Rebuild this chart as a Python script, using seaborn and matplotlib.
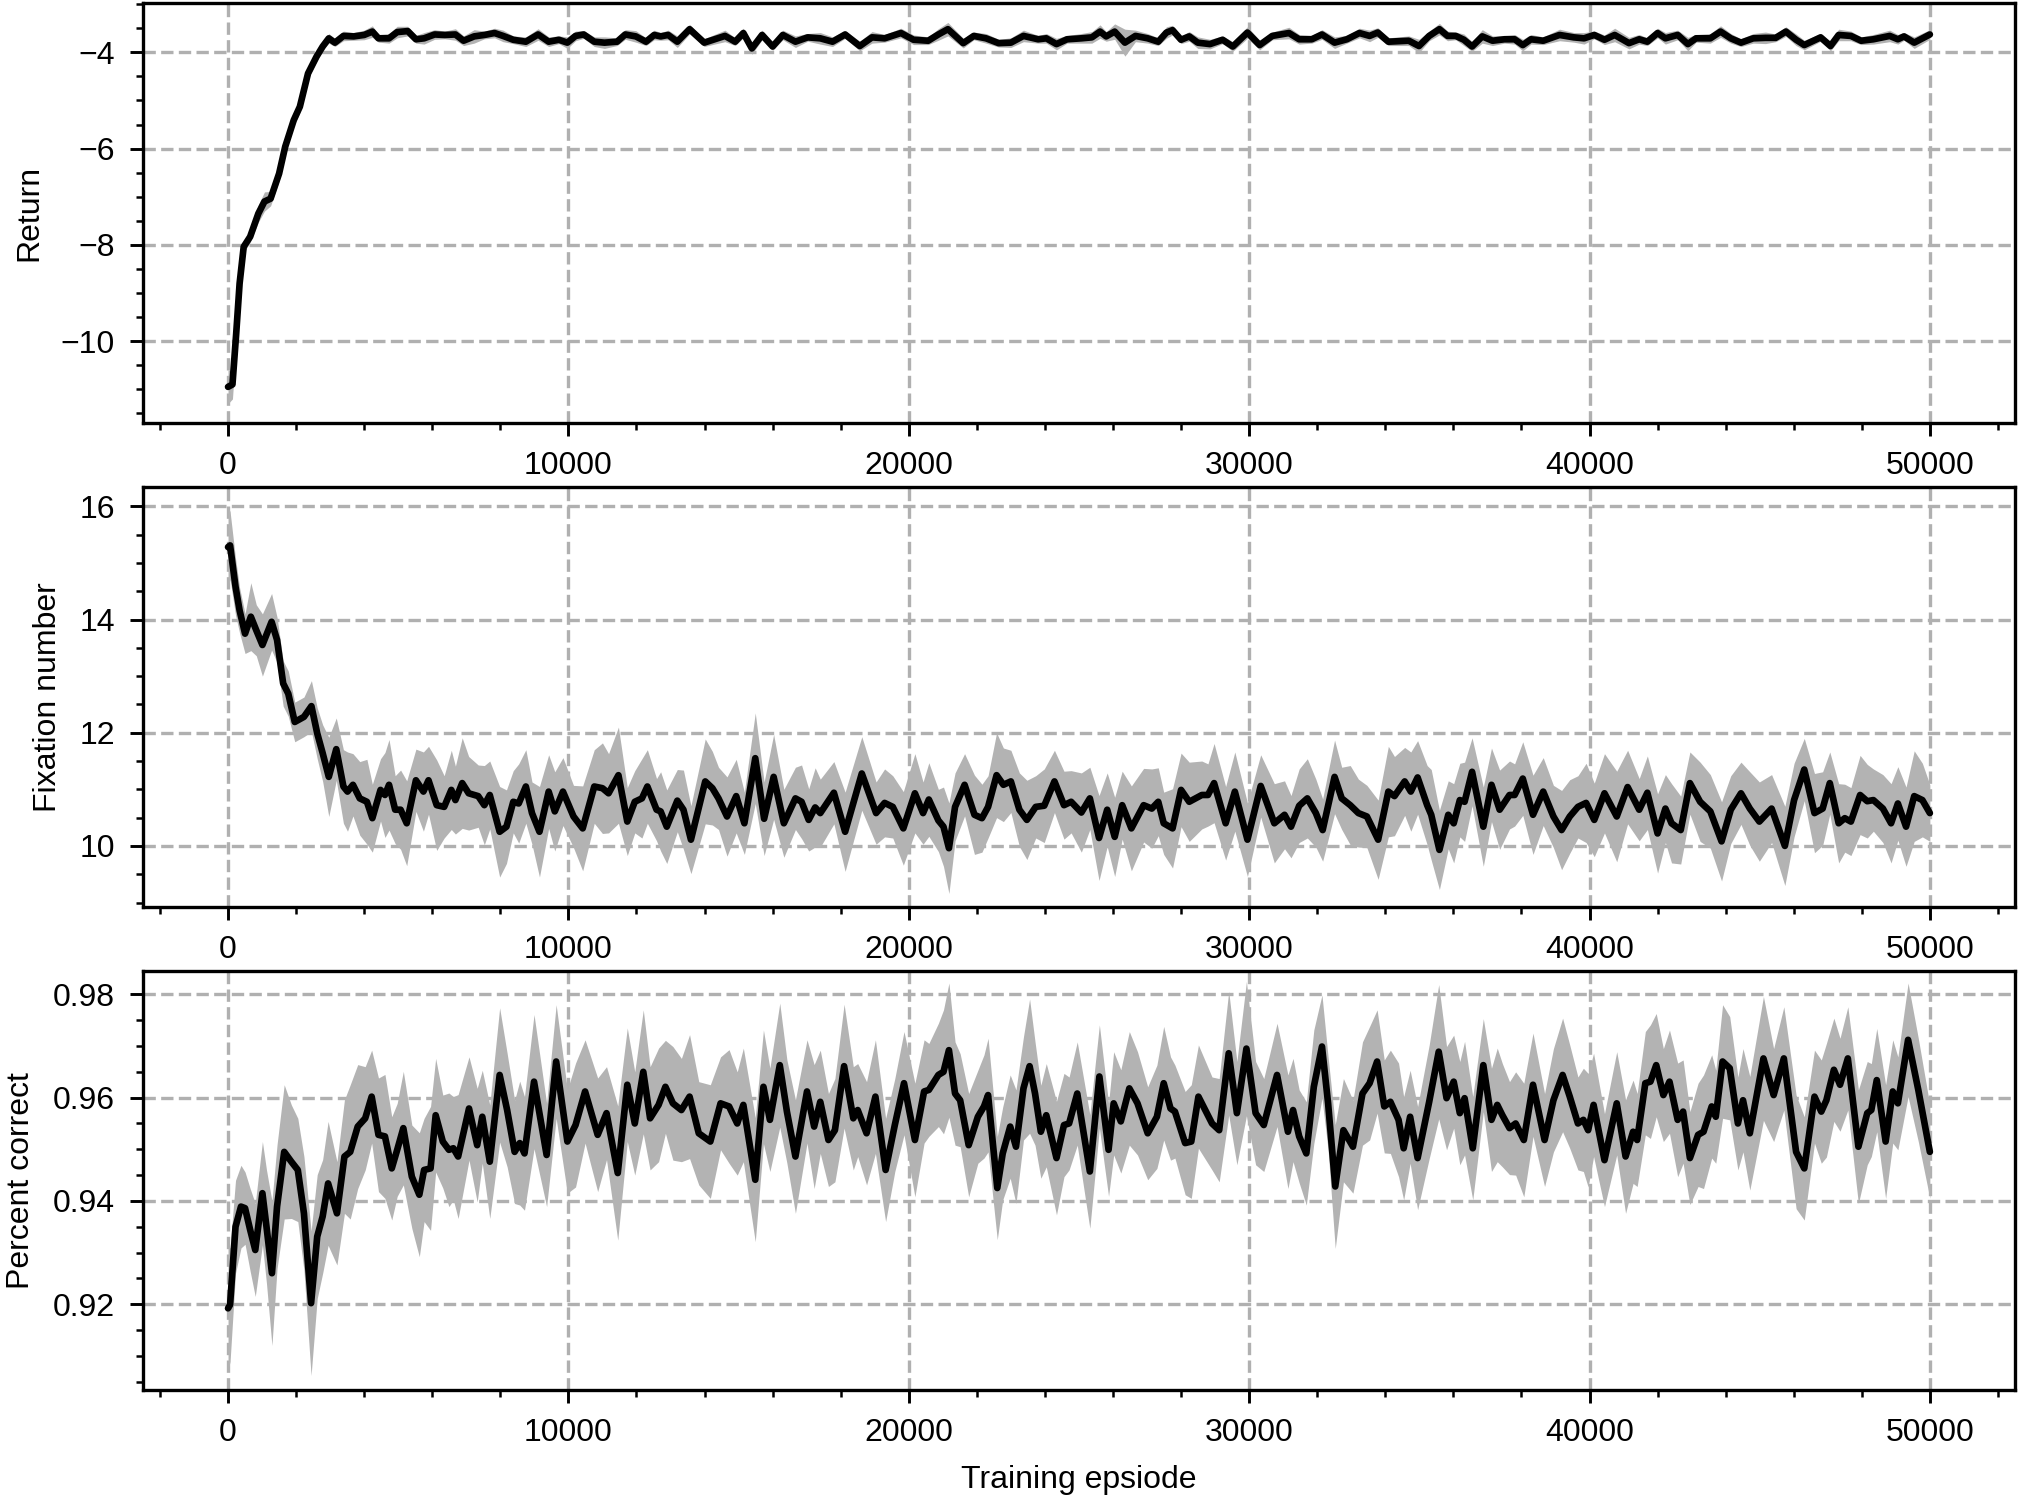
import numpy as np
import matplotlib
matplotlib.use("Agg")
import matplotlib.pyplot as plt
from matplotlib.ticker import MultipleLocator, AutoMinorLocator
import seaborn as sns

# ---------------- data ----------------
ret_x = [0,130,240,340,460,650,890,1070,1250,1500,
         1680,1930,2110,2350,2600,2780,2960,3140,3390,3690,
         4000,4240,4420,4730,4970,5280,5520,5760,6070,6370,
         6680,6920,7230,7530,7830,8080,8380,8750,9110,9420,
         9720,9970,10210,10450,10760,11060,11430,11670,11980,12280,
         12520,12710,12930,13200,13560,13990,14290,14600,14900,15140,
         15390,15690,16000,16300,16670,17030,17400,17760,18130,18560,
         18920,19290,19770,20140,20570,20870,21150,21600,21910,22270,
         22640,23000,23370,23800,24040,24340,24650,25070,25380,25620,
         25800,26050,26350,26660,27020,27330,27570,27750,28000,28240,
         28490,28850,29220,29520,29950,30310,30680,31170,31470,31840,
         32140,32510,32870,33240,33540,33780,34090,34690,34990,35290,
         35590,35830,36070,36310,36550,36850,37150,37500,37800,38040,
         38280,38640,39120,39540,39840,40140,40440,40740,41160,41460,
         41700,42000,42230,42590,42890,43130,43550,43850,44150,44450,
         44810,45170,45470,45770,46070,46310,46790,47080,47320,47680,
         47980,48340,48820,49060,49240,49540,50000]
ret_mean = [-10.95,-10.9,-9.84,-8.8,-8.04,-7.83,-7.35,-7.1,-7.04,-6.52,
            -5.96,-5.41,-5.13,-4.44,-4.09,-3.88,-3.71,-3.80,-3.66,-3.67,
            -3.64,-3.57,-3.71,-3.71,-3.58,-3.56,-3.73,-3.71,-3.63,-3.64,
            -3.63,-3.76,-3.67,-3.64,-3.60,-3.66,-3.74,-3.78,-3.63,-3.78,
            -3.74,-3.80,-3.66,-3.63,-3.78,-3.80,-3.78,-3.63,-3.67,-3.78,
            -3.64,-3.67,-3.64,-3.78,-3.52,-3.80,-3.73,-3.66,-3.78,-3.60,
            -3.92,-3.64,-3.88,-3.64,-3.78,-3.69,-3.71,-3.78,-3.63,-3.87,
            -3.69,-3.71,-3.60,-3.74,-3.76,-3.63,-3.52,-3.81,-3.66,-3.71,
            -3.81,-3.80,-3.66,-3.73,-3.71,-3.83,-3.73,-3.71,-3.69,-3.57,
            -3.67,-3.57,-3.80,-3.66,-3.71,-3.78,-3.59,-3.54,-3.74,-3.67,
            -3.80,-3.83,-3.74,-3.88,-3.59,-3.85,-3.66,-3.60,-3.73,-3.73,
            -3.63,-3.80,-3.73,-3.60,-3.66,-3.59,-3.78,-3.76,-3.87,-3.66,
            -3.52,-3.66,-3.66,-3.74,-3.88,-3.67,-3.76,-3.73,-3.73,-3.85,
            -3.73,-3.76,-3.64,-3.69,-3.71,-3.64,-3.74,-3.64,-3.81,-3.73,
            -3.78,-3.60,-3.71,-3.64,-3.83,-3.71,-3.71,-3.57,-3.71,-3.80,
            -3.71,-3.70,-3.70,-3.57,-3.74,-3.85,-3.69,-3.87,-3.64,-3.66,
            -3.76,-3.73,-3.66,-3.73,-3.67,-3.80,-3.63]
ret_sd = [0.35,0.30,0.22,0.18,0.12,0.12,0.18,0.20,0.15,0.15,
          0.12,0.12,0.12,0.12,0.10,0.08,0.10,0.08,0.10,0.08,
          0.10,0.12,0.08,0.10,0.12,0.10,0.08,0.12,0.10,0.08,
          0.12,0.10,0.14,0.08,0.10,0.12,0.08,0.10,0.12,0.10,
          0.08,0.12,0.10,0.08,0.10,0.12,0.08,0.10,0.12,0.08,
          0.10,0.08,0.10,0.12,0.10,0.08,0.10,0.12,0.08,0.10,
          0.12,0.10,0.08,0.10,0.12,0.08,0.12,0.10,0.08,0.10,
          0.12,0.08,0.10,0.10,0.08,0.12,0.14,0.10,0.08,0.10,
          0.08,0.10,0.12,0.08,0.10,0.12,0.08,0.10,0.12,0.14,
          0.10,0.16,0.28,0.12,0.10,0.08,0.12,0.10,0.08,0.10,
          0.12,0.10,0.08,0.10,0.12,0.10,0.08,0.12,0.10,0.08,
          0.10,0.12,0.08,0.10,0.12,0.10,0.08,0.10,0.14,0.10,
          0.12,0.10,0.08,0.12,0.10,0.14,0.10,0.08,0.10,0.12,
          0.10,0.08,0.12,0.10,0.12,0.08,0.10,0.14,0.12,0.10,
          0.08,0.10,0.12,0.10,0.14,0.08,0.10,0.12,0.10,0.08,
          0.10,0.12,0.08,0.10,0.12,0.10,0.08,0.10,0.12,0.10,
          0.08,0.10,0.12,0.10,0.08,0.12,0.10]

fix_x = [0,60,220,340,500,670,830,1010,1280,1440,
         1620,1770,1960,2230,2450,2620,2780,2960,3180,3390,
         3510,3670,3870,4080,4240,4480,4610,4730,4910,5070,
         5250,5520,5740,5890,6130,6350,6560,6680,6880,7070,
         7350,7530,7690,7980,8180,8380,8540,8750,8930,9150,
         9420,9600,9840,10150,10420,10760,11000,11180,11470,11730,
         11950,12160,12320,12590,12710,12890,13200,13380,13600,14020,
         14230,14410,14660,14930,15170,15490,15750,16030,16330,16670,
         16850,17060,17250,17400,17800,18130,18620,19040,19290,19530,
         19840,20180,20420,20590,20870,21020,21180,21360,21640,21930,
         22150,22330,22580,22780,23000,23250,23470,23730,23980,24280,
         24560,24770,25070,25320,25590,25830,26050,26270,26540,26900,
         27140,27330,27490,27750,28000,28240,28610,28790,28970,29310,
         29580,29950,30340,30740,31040,31230,31470,31710,31960,32160,
         32510,32720,32970,33210,33460,33790,34090,34270,34570,34750,
         34950,35230,35350,35590,35850,36010,36190,36330,36550,36880,
         37120,37360,37650,37800,38040,38340,38640,38940,39180,39420,
         39660,39900,40140,40440,40800,41120,41460,41700,42000,42230,
         42410,42680,42950,43250,43550,43880,44150,44450,44710,44990,
         45350,45740,46010,46310,46610,46850,47060,47320,47500,47680,
         47950,48160,48340,48620,48860,49060,49300,49540,49780,50000]
fix_mean = [15.28,15.31,14.58,14.16,13.75,14.05,13.81,13.55,13.96,13.64,
            12.87,12.69,12.19,12.28,12.47,11.99,11.64,11.22,11.71,11.05,
            10.96,11.08,10.84,10.78,10.49,10.99,10.90,11.08,10.64,10.64,
            10.40,11.16,10.96,11.16,10.72,10.69,10.99,10.81,11.11,10.93,
            10.88,10.72,10.90,10.25,10.34,10.78,10.75,11.05,10.58,10.25,
            10.96,10.61,10.96,10.52,10.31,11.05,11.02,10.93,11.25,10.43,
            10.78,10.84,11.05,10.64,10.61,10.34,10.80,10.64,10.11,11.14,
            11.02,10.84,10.52,10.88,10.40,11.55,10.48,11.22,10.40,10.84,
            10.78,10.46,10.68,10.58,10.94,10.25,11.28,10.58,10.76,10.69,
            10.31,10.93,10.58,10.82,10.45,10.34,9.96,10.69,11.08,10.55,
            10.49,10.69,11.25,11.08,11.14,10.64,10.46,10.69,10.71,11.14,
            10.72,10.78,10.59,10.84,10.14,10.64,10.16,10.72,10.31,10.72,
            10.66,10.78,10.40,10.31,10.99,10.78,10.90,10.90,11.11,10.40,
            10.96,10.11,11.06,10.40,10.55,10.34,10.71,10.84,10.58,10.28,
            11.22,10.84,10.72,10.58,10.52,10.11,10.96,10.88,11.14,10.96,
            11.21,10.72,10.55,9.93,10.55,10.40,10.81,10.78,11.31,10.34,
            11.08,10.64,10.90,10.90,11.19,10.55,10.96,10.52,10.28,10.52,
            10.69,10.76,10.46,10.93,10.52,11.04,10.64,10.94,10.22,10.66,
            10.40,10.28,11.11,10.78,10.61,10.08,10.64,10.93,10.66,10.43,
            10.66,10.00,10.81,11.35,10.58,10.66,11.11,10.40,10.49,10.43,
            10.90,10.79,10.81,10.66,10.40,10.75,10.34,10.88,10.81,10.58]
fix_sd = [0.70,0.60,0.50,0.40,0.35,0.60,0.45,0.55,0.50,0.40,
          0.40,0.40,0.35,0.35,0.45,0.45,0.50,0.70,0.55,0.65,
          0.70,0.55,0.65,0.75,0.60,0.55,0.75,0.80,0.60,0.70,
          0.75,0.55,0.70,0.60,0.80,0.55,0.70,0.60,0.80,0.65,
          0.55,0.70,0.60,0.80,0.65,0.55,0.70,0.65,0.55,0.80,
          0.65,0.70,0.60,0.55,0.75,0.65,0.80,0.70,0.85,0.60,
          0.55,0.70,0.65,0.55,0.70,0.65,0.55,0.70,0.60,0.75,
          0.65,0.55,0.70,0.65,0.55,0.80,0.65,0.75,0.60,0.55,
          0.65,0.55,0.70,0.60,0.55,0.70,0.65,0.55,0.60,0.55,
          0.65,0.70,0.55,0.65,0.55,0.70,0.80,0.60,0.55,0.70,
          0.60,0.55,0.75,0.65,0.55,0.65,0.70,0.55,0.65,0.55,
          0.60,0.55,0.70,0.55,0.75,0.65,0.70,0.60,0.75,0.65,
          0.70,0.60,0.55,0.70,0.65,0.70,0.60,0.55,0.70,0.65,
          0.70,0.65,0.55,0.70,0.60,0.55,0.65,0.70,0.60,0.55,
          0.65,0.55,0.70,0.60,0.55,0.70,0.80,0.70,0.60,0.70,
          0.65,0.70,0.80,0.70,0.60,0.70,0.65,0.70,0.60,0.70,
          0.65,0.70,0.60,0.55,0.65,0.70,0.60,0.55,0.70,0.65,
          0.55,0.70,0.65,0.70,0.80,0.65,0.55,0.65,0.70,0.60,
          0.70,0.60,0.55,0.70,0.65,0.70,0.60,0.55,0.65,0.70,
          0.60,0.70,0.65,0.55,0.70,0.65,0.55,0.70,0.60,0.60,
          0.70,0.65,0.55,0.60,0.70,0.65,0.70,0.80,0.65,0.50]

pc_x = [0,60,220,380,500,650,800,1010,1130,1290,
        1440,1650,1860,2050,2230,2440,2620,2780,2940,3200,
        3420,3590,3810,4030,4220,4420,4610,4810,4970,5150,
        5400,5620,5760,5950,6100,6310,6490,6620,6760,7080,
        7320,7470,7690,7980,8200,8420,8570,8710,8990,9360,
        9640,9970,10210,10490,10860,11120,11450,11730,11950,12200,
        12400,12650,12850,13070,13320,13560,13830,14170,14470,14720,
        14960,15140,15490,15730,15920,16210,16420,16670,17010,17220,
        17400,17640,17830,18100,18370,18500,18760,19020,19320,19590,
        19860,20180,20450,20590,20870,21020,21180,21360,21510,21760,
        22030,22210,22330,22600,22760,22980,23150,23370,23550,23710,
        23880,24040,24340,24560,24710,24950,25320,25600,25870,26020,
        26230,26480,26720,27020,27290,27490,27690,27820,28120,28300,
        28510,28910,29120,29400,29640,29920,30190,30430,30820,31140,
        31290,31470,31680,31900,32140,32320,32530,32770,33050,33330,
        33540,33760,33970,34150,34390,34540,34730,34950,35290,35570,
        35800,36010,36190,36330,36570,36880,37120,37290,37440,37650,
        37830,38070,38340,38680,38940,39210,39420,39660,39820,39960,
        40120,40440,40800,41060,41280,41400,41640,41790,41960,42170,
        42350,42590,42750,42950,43190,43350,43590,43710,43910,44120,
        44360,44510,44710,45110,45410,45710,46070,46310,46610,46810,
        46960,47180,47360,47590,47900,48160,48280,48440,48700,48910,
        49060,49360,49660,50000]
pc_mean = [0.9192,0.9199,0.9350,0.9389,0.9386,0.9344,0.9305,0.9415,0.9350,0.9260,
           0.9389,0.9495,0.9476,0.9460,0.9376,0.9202,0.9331,0.9370,0.9434,0.9376,
           0.9486,0.9495,0.9544,0.9560,0.9602,0.9528,0.9525,0.9463,0.9499,0.9541,
           0.9447,0.9412,0.9460,0.9463,0.9566,0.9515,0.9499,0.9502,0.9486,0.9579,
           0.9508,0.9563,0.9476,0.9644,0.9576,0.9495,0.9512,0.9492,0.9631,0.9489,
           0.9670,0.9515,0.9547,0.9612,0.9528,0.9570,0.9454,0.9625,0.9550,0.9650,
           0.9560,0.9586,0.9621,0.9589,0.9576,0.9602,0.9531,0.9515,0.9589,0.9583,
           0.9550,0.9586,0.9441,0.9621,0.9557,0.9663,0.9573,0.9486,0.9612,0.9544,
           0.9592,0.9518,0.9537,0.9661,0.9560,0.9576,0.9531,0.9602,0.9460,0.9547,
           0.9628,0.9518,0.9612,0.9615,0.9644,0.9650,0.9692,0.9608,0.9595,0.9508,
           0.9563,0.9583,0.9605,0.9425,0.9492,0.9544,0.9505,0.9618,0.9661,0.9608,
           0.9534,0.9566,0.9483,0.9547,0.9550,0.9608,0.9457,0.9641,0.9499,0.9589,
           0.9554,0.9618,0.9589,0.9531,0.9563,0.9628,0.9579,0.9573,0.9512,0.9515,
           0.9602,0.9550,0.9537,0.9686,0.9570,0.9695,0.9570,0.9547,0.9644,0.9534,
           0.9576,0.9525,0.9492,0.9621,0.9699,0.9589,0.9428,0.9537,0.9505,0.9608,
           0.9628,0.9670,0.9583,0.9592,0.9557,0.9502,0.9563,0.9483,0.9592,0.9689,
           0.9599,0.9631,0.9570,0.9599,0.9502,0.9663,0.9557,0.9586,0.9566,0.9541,
           0.9550,0.9518,0.9625,0.9518,0.9595,0.9644,0.9602,0.9550,0.9557,0.9537,
           0.9586,0.9479,0.9589,0.9486,0.9534,0.9518,0.9628,0.9631,0.9663,0.9605,
           0.9631,0.9557,0.9573,0.9483,0.9528,0.9534,0.9583,0.9563,0.9670,0.9657,
           0.9550,0.9595,0.9531,0.9676,0.9605,0.9676,0.9495,0.9463,0.9602,0.9573,
           0.9595,0.9654,0.9625,0.9676,0.9505,0.9570,0.9576,0.9634,0.9515,0.9612,
           0.9589,0.9712,0.9615,0.9495]
pc_sd = [0.012,0.011,0.009,0.008,0.007,0.008,0.009,0.010,0.011,0.014,
         0.012,0.013,0.011,0.010,0.011,0.014,0.012,0.011,0.012,0.010,
         0.011,0.013,0.012,0.010,0.009,0.011,0.012,0.010,0.009,0.011,
         0.010,0.012,0.010,0.012,0.011,0.009,0.011,0.010,0.012,0.010,
         0.011,0.009,0.011,0.013,0.011,0.010,0.012,0.011,0.013,0.010,
         0.011,0.010,0.012,0.010,0.011,0.009,0.013,0.011,0.010,0.012,
         0.010,0.011,0.009,0.011,0.010,0.012,0.010,0.011,0.009,0.011,
         0.010,0.011,0.012,0.011,0.010,0.012,0.010,0.011,0.010,0.012,
         0.010,0.009,0.010,0.012,0.010,0.009,0.010,0.011,0.010,0.009,
         0.010,0.011,0.010,0.009,0.010,0.012,0.013,0.010,0.009,0.010,
         0.009,0.010,0.011,0.010,0.009,0.010,0.011,0.010,0.013,0.010,
         0.009,0.010,0.011,0.010,0.009,0.010,0.011,0.010,0.009,0.010,
         0.010,0.011,0.010,0.009,0.010,0.011,0.010,0.009,0.010,0.011,
         0.010,0.009,0.010,0.012,0.010,0.013,0.010,0.009,0.010,0.011,
         0.010,0.009,0.010,0.011,0.010,0.009,0.012,0.010,0.009,0.010,
         0.011,0.010,0.009,0.010,0.011,0.010,0.009,0.010,0.011,0.013,
         0.010,0.009,0.010,0.011,0.010,0.009,0.010,0.011,0.010,0.009,
         0.010,0.011,0.010,0.009,0.010,0.011,0.010,0.009,0.010,0.011,
         0.010,0.009,0.010,0.011,0.010,0.009,0.010,0.011,0.010,0.009,
         0.010,0.011,0.010,0.009,0.010,0.011,0.010,0.009,0.011,0.010,
         0.009,0.010,0.011,0.012,0.009,0.010,0.011,0.010,0.009,0.010,
         0.011,0.010,0.009,0.010,0.011,0.010,0.009,0.010,0.011,0.010,
         0.009,0.011,0.010,0.009]

ylabels = ["Return", "Fixation number", "Percent correct"]
xlabel = "Training epsiode"
xtick_vals = [0, 10000, 20000, 30000, 40000, 50000]

# ---------------- style ----------------
sns.set_theme(style="ticks")
plt.rcParams['font.family'] = ['Liberation Sans', 'DejaVu Sans']
plt.rcParams.update({
    "font.size": 7.7,
    "axes.labelsize": 7.7,
    "xtick.labelsize": 7.7,
    "ytick.labelsize": 7.7,
    "axes.edgecolor": "black",
    "axes.linewidth": 0.8,
    "xtick.color": "black",
    "ytick.color": "black",
    "xtick.major.size": 3.2,
    "ytick.major.size": 3.2,
    "xtick.minor.size": 1.7,
    "ytick.minor.size": 1.7,
    "xtick.major.width": 0.7,
    "ytick.major.width": 0.7,
    "xtick.minor.width": 0.6,
    "ytick.minor.width": 0.6,
    "axes.labelcolor": "black",
    "text.color": "black",
})

fig = plt.figure(figsize=(2019 / 300, 1501 / 300), dpi=300)
positions = [
    [0.0708, 0.7182, 0.9272, 0.2800],
    [0.0708, 0.3957, 0.9272, 0.2798],
    [0.0708, 0.0740, 0.9272, 0.2790],
]
ylims = [(-11.7, -2.97), (8.92, 16.34), (0.9034, 0.9845)]
ysteps = [2, 2, 0.02]
series = [(ret_x, ret_mean, ret_sd), (fix_x, fix_mean, fix_sd), (pc_x, pc_mean, pc_sd)]

for i, (pos, (xs, ms, sds), ylab, ylim, ystep) in enumerate(
        zip(positions, series, ylabels, ylims, ysteps)):
    ax = fig.add_axes(pos)
    xs = np.asarray(xs, float)
    ms = np.asarray(ms, float)
    sds = np.asarray(sds, float)
    ax.fill_between(xs, ms - sds, ms + sds, color="#b3b3b3", lw=0, zorder=2)
    sns.lineplot(x=xs, y=ms, ax=ax, color="black", lw=1.6, zorder=3,
                 estimator=None, sort=False,
                 solid_joinstyle="round", solid_capstyle="round")
    ax.set_xlim(-2500, 52500)
    ax.set_ylim(*ylim)
    ax.set_xticks(xtick_vals)
    ax.xaxis.set_minor_locator(AutoMinorLocator(5))
    ax.yaxis.set_major_locator(MultipleLocator(ystep))
    ax.yaxis.set_minor_locator(AutoMinorLocator(4))
    if i == 2:
        ax.yaxis.set_major_formatter(plt.FuncFormatter(lambda v, p: f"{v:.2f}"))
    ax.grid(True, which="major", ls="--", color="#b0b0b0", lw=0.8, zorder=0)
    ax.set_axisbelow(True)
    ax.set_ylabel(ylab)
    ax.set_xlabel(xlabel if i == 2 else "")
    for s in ax.spines.values():
        s.set_visible(True)
        s.set_color("black")
        s.set_linewidth(0.8)

fig.savefig("out.png", dpi=300)
